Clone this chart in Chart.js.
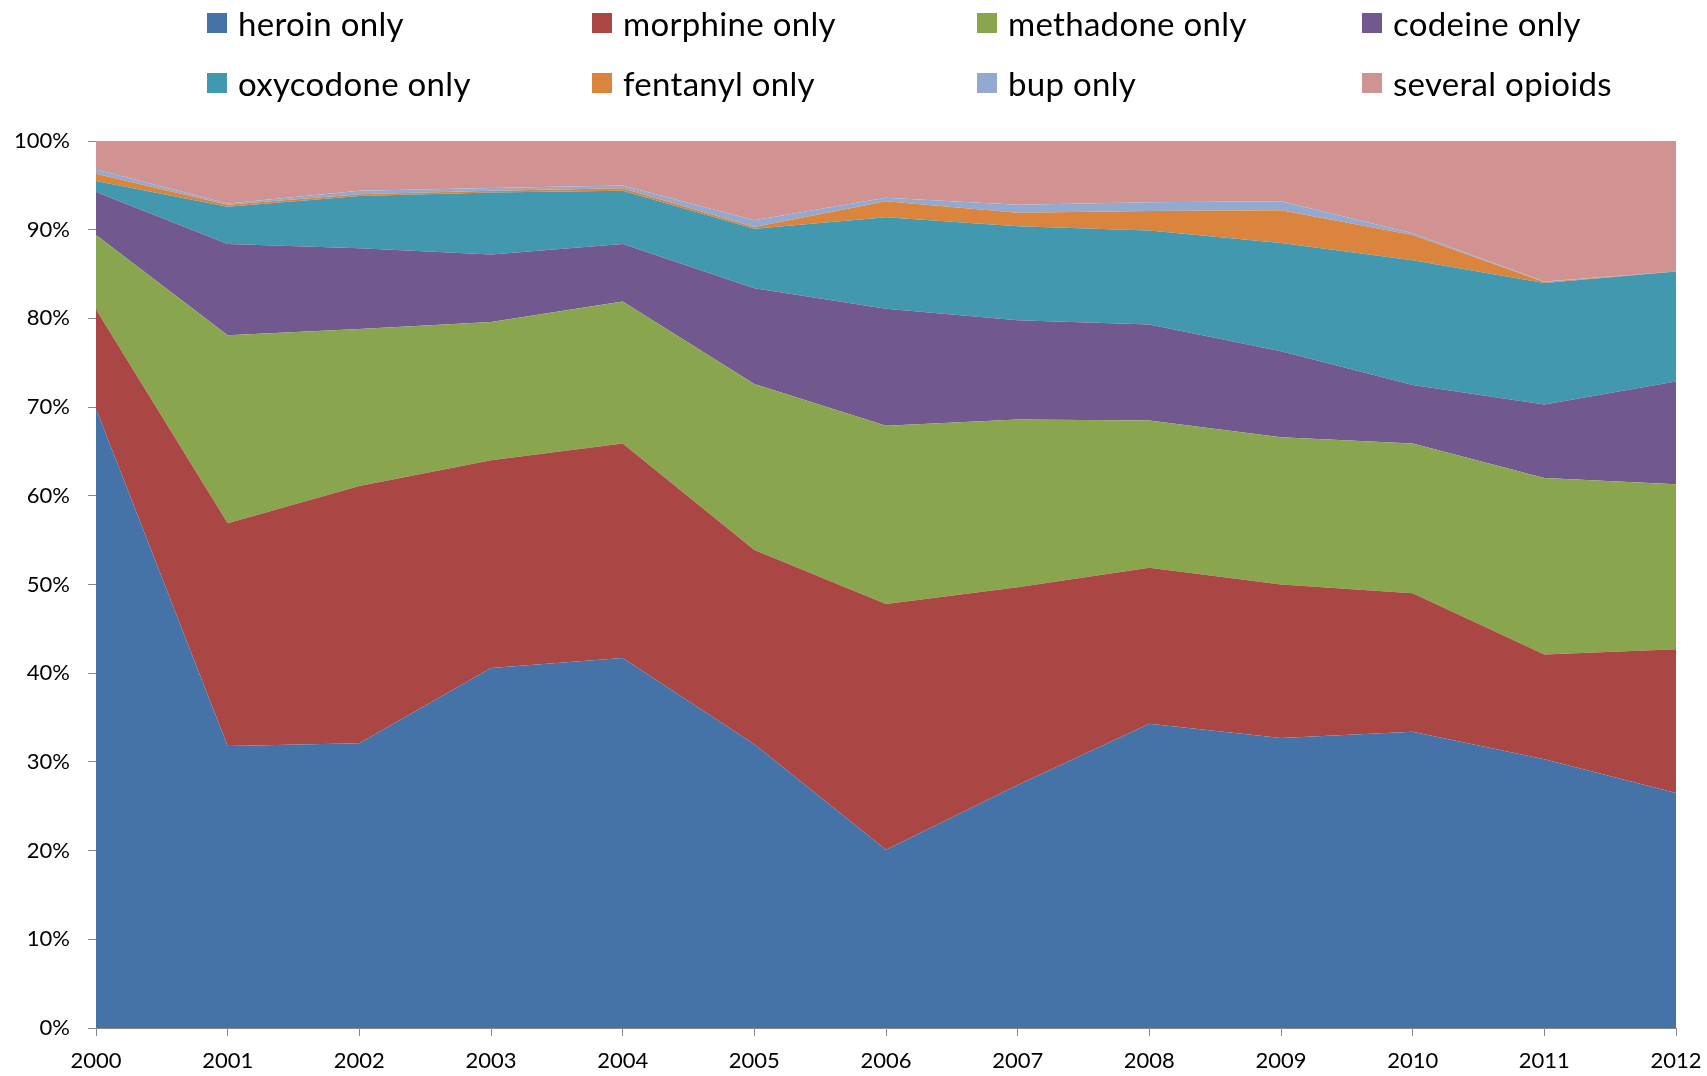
<!DOCTYPE html>
<html>
<head>
<meta charset="utf-8">
<script src="https://cdn.jsdelivr.net/npm/chart.js@4.4.1/dist/chart.umd.min.js"></script>
<style>
  html, body { margin: 0; padding: 0; background: #fff; }
  #wrap { position: relative; width: 1707px; height: 1076px; }
  #chart { position: absolute; left: 0; top: 0; }
  #legend {
    position: absolute; left: 207px; top: 4px;
    display: grid; grid-template-columns: repeat(4, 385px);
    row-gap: 22px;
    font-family: Lato, 'Open Sans', sans-serif; font-size: 33px; letter-spacing: 0.3px; color: #000;
  }
  .item { display: flex; align-items: center; height: 38px; white-space: nowrap; }
  .box { width: 20px; height: 20px; margin-right: 11px; flex: none; }
</style>
</head>
<body>
<div id="wrap">
  <canvas id="chart" width="1707" height="1076"></canvas>
  <div id="legend"></div>
</div>
<script>
const years = ['2000','2001','2002','2003','2004','2005','2006','2007','2008','2009','2010','2011','2012']

// share of deaths per year, in %
const heroin    = [69.8, 31.8, 32.1, 40.6, 41.7, 32.0, 20.1, 27.4, 34.3, 32.7, 33.4, 30.3, 26.5]
const morphine  = [11.2, 25.1, 29.0, 23.4, 24.2, 21.9, 27.7, 22.3, 17.6, 17.3, 15.6, 11.8, 16.2]
const methadone = [8.4, 21.2, 17.7, 15.6, 16.0, 18.7, 20.1, 18.9, 16.6, 16.6, 16.9, 19.9, 18.6]
const codeine   = [4.85, 10.3, 9.1, 7.6, 6.5, 10.8, 13.2, 11.2, 10.8, 9.7, 6.6, 8.3, 11.6]
const oxycodone = [1.25, 4.2, 5.9, 7.0, 6.0, 6.7, 10.3, 10.6, 10.6, 12.2, 14.05, 13.7, 12.4]
const fentanyl  = [0.8, 0.2, 0.2, 0.2, 0.27, 0.2, 1.8, 1.5, 2.2, 3.7, 2.85, 0.1, 0]
const bup       = [0.5, 0.15, 0.4, 0.3, 0.3, 0.76, 0.4, 0.9, 1.0, 1.0, 0.2, 0.05, 0]
const several   = [3.2, 7.05, 5.6, 5.3, 5.03, 8.94, 6.4, 7.2, 6.9, 6.8, 10.4, 15.85, 14.7]

const yTicks = [0, 10, 20, 30, 40, 50, 60, 70, 80, 90, 100]

const series = [
  { label: 'heroin only',    data: heroin,    color: '#4572A7' },
  { label: 'morphine only',  data: morphine,  color: '#AA4643' },
  { label: 'methadone only', data: methadone, color: '#89A54E' },
  { label: 'codeine only',   data: codeine,   color: '#71588F' },
  { label: 'oxycodone only', data: oxycodone, color: '#4198AF' },
  { label: 'fentanyl only',  data: fentanyl,  color: '#DB843D' },
  { label: 'bup only',       data: bup,       color: '#93A9CF' },
  { label: 'several opioids', data: several,  color: '#D19392' },
]

const axisGray = '#868686'
const tickFont = { family: 'Lato', size: 22 }

const legendEl = document.getElementById('legend')
series.forEach(s => {
  const item = document.createElement('div')
  item.className = 'item'
  item.innerHTML = `<span class="box" style="background:${s.color}"></span><span>${s.label}</span>`
  legendEl.appendChild(item)
})

new Chart(document.getElementById('chart'), {
  type: 'line',
  data: {
    labels: years,
    datasets: series.map((s, i) => ({
      label: s.label,
      data: s.data,
      backgroundColor: s.color,
      borderColor: 'rgba(0,0,0,0)',
      borderWidth: 0,
      pointRadius: 0,
      tension: 0,
      fill: i === 0 ? 'origin' : '-1',
    })),
  },
  options: {
    responsive: false,
    animation: false,
    layout: { padding: { top: 141, right: 31, left: 0, bottom: 0 } },
    plugins: { legend: { display: false }, tooltip: { enabled: false } },
    scales: {
      x: {
        offset: false,
        grid: { drawOnChartArea: false, tickColor: axisGray, tickLength: 8 },
        border: { color: axisGray },
        ticks: { color: '#000', font: tickFont, maxRotation: 0, autoSkip: false, padding: 12 },
        afterFit: s => { s.height = 48; s.paddingLeft = 0; s.paddingRight = 0 },
      },
      y: {
        stacked: true,
        min: 0,
        max: 100,
        afterBuildTicks: s => { s.ticks = yTicks.map(v => ({ value: v })) },
        grid: {
          color: c => (c.tick && c.tick.value === 100 ? axisGray : 'rgba(0,0,0,0)'),
          tickColor: axisGray,
          tickLength: 8,
        },
        border: { color: axisGray },
        ticks: { color: '#000', font: tickFont, padding: 18, callback: v => v + '%' },
        afterFit: s => { s.width = 96; s.paddingTop = 0; s.paddingBottom = 0 },
      },
    },
  },
})
</script>
</body>
</html>
